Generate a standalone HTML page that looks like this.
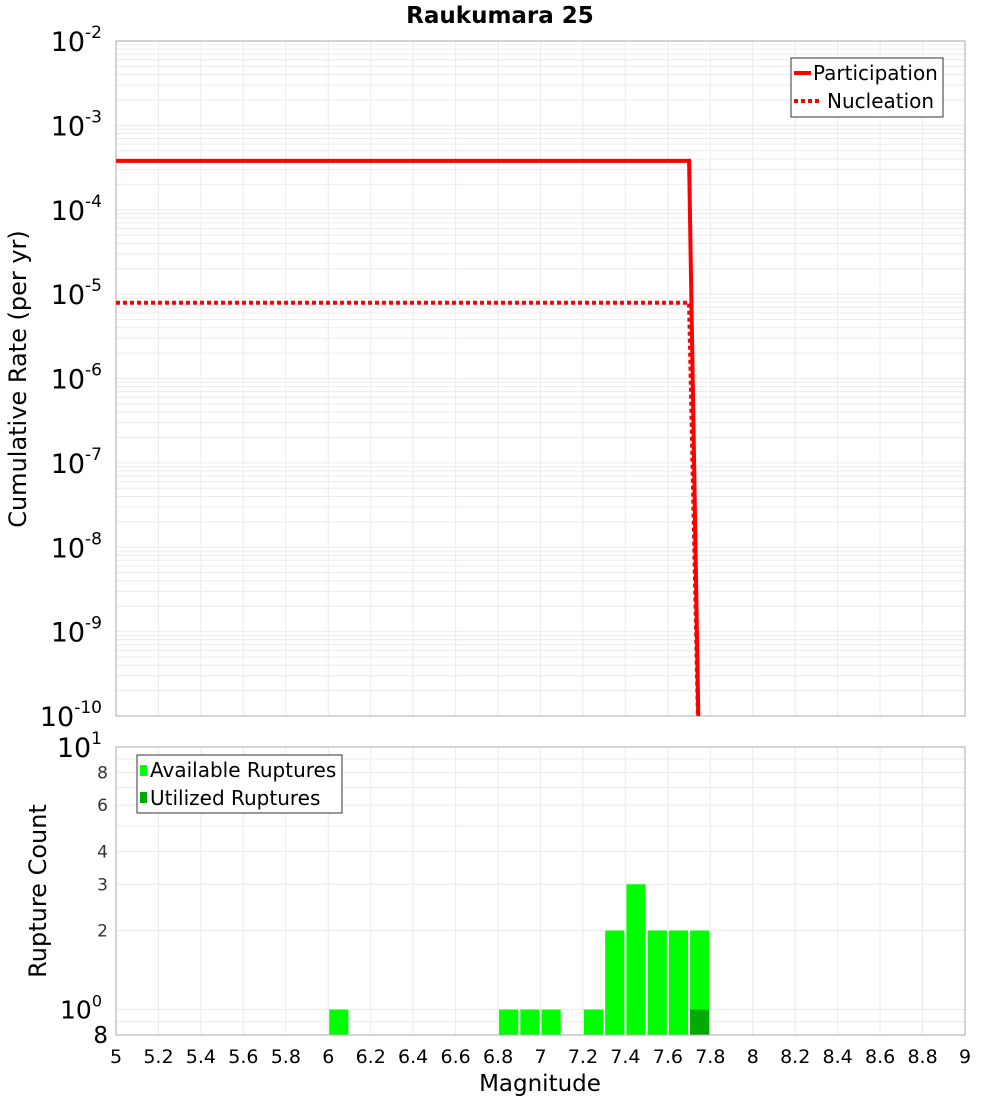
<!DOCTYPE html>
<html><head><meta charset="utf-8"><style>
body{margin:0;background:#fff;font-family:"Liberation Sans","DejaVu Sans",sans-serif}
svg text{font-family:"DejaVu Sans","Liberation Sans",sans-serif}
</style></head><body>
<svg id="c" width="1000" height="1100" xmlns="http://www.w3.org/2000/svg"></svg>
<script>
const magTicks=[5,5.2,5.4,5.6,5.8,6,6.2,6.4,6.6,6.8,7,7.2,7.4,7.6,7.8,8,8.2,8.4,8.6,8.8,9];
const partMags=[5,7.7,7.75];
const partRates=[3.8e-4,3.8e-4,1e-11];
const nuclMags=[5,7.7,7.75];
const nuclRates=[7.9e-6,7.9e-6,1e-11];
const binMags=[6.05,6.85,6.95,7.05,7.25,7.35,7.45,7.55,7.65,7.75];
const availCounts=[1,1,1,1,1,2,3,2,2,2];
const usedMags=[7.75];
const usedCounts=[1];
const countTicks=[8,6,4,3,2];

const S=document.getElementById('c');const NS='http://www.w3.org/2000/svg';
function el(t,a,txt){const e=document.createElementNS(NS,t);for(const k in a)e.setAttribute(k,a[k]);if(txt!==undefined)e.textContent=txt;S.appendChild(e);return e;}
const X0=116,X1=965;
const xs=m=>X0+(m-5)/4*(X1-X0);
const T0=41,T1=716;
const yt=v=>T0+(-2-Math.log10(v))/8*(T1-T0);
const B0=747,B1=1035;
const yb=v=>B1-(Math.log10(v)-Math.log10(0.8))/(1-Math.log10(0.8))*(B1-B0);

const defs=el('defs',{});
const cp=document.createElementNS(NS,'clipPath');cp.setAttribute('id','ct');
const r=document.createElementNS(NS,'rect');r.setAttribute('x',X0);r.setAttribute('y',T0);r.setAttribute('width',X1-X0);r.setAttribute('height',T1-T0);cp.appendChild(r);defs.appendChild(cp);

for(let d=-10;d<-2;d++)for(let k=1;k<10;k++){const y=yt(k*Math.pow(10,d));const g=el('line',{x1:X0,x2:X1,y1:y,y2:y,stroke:'#ececec','stroke-width':1});}
magTicks.forEach(m=>{el('line',{x1:xs(m),x2:xs(m),y1:T0,y2:T1,stroke:'#ececec'});el('line',{x1:xs(m),x2:xs(m),y1:B0,y2:B1,stroke:'#ececec'});});
for(let v=1;v<=10;v++){const y=yb(v);el('line',{x1:X0,x2:X1,y1:y,y2:y,stroke:'#ececec'});}
el('line',{x1:X0,x2:X1,y1:yb(0.9),y2:yb(0.9),stroke:'#ececec'});

const tf=el('rect',{x:X0,y:T0,width:X1-X0,height:T1-T0,fill:'none',stroke:'#aaa'});

for(let d=-10;d<=-2;d++){const y=yt(Math.pow(10,d));
 const t=el('text',{x:102,y:y+10,'text-anchor':'end','font-size':27,fill:'#000'});
 
 t.innerHTML='10<tspan dy="-13" font-size="17">'+d+'</tspan>';}
function pl(ms,vs){return ms.map((m,i)=>xs(m)+','+yt(vs[i])).join(' ');}
const p=el('polyline',{points:pl(partMags,partRates),fill:'none',stroke:'#f00','stroke-width':4,'clip-path':'url(#ct)'});

const n=el('polyline',{points:pl(nuclMags,nuclRates),fill:'none',stroke:'#f00','stroke-width':4,'stroke-dasharray':'4,3','clip-path':'url(#ct)'});

const lg=el('rect',{x:791,y:58,width:152,height:59,fill:'#fff',stroke:'#333'});

el('line',{x1:794,x2:811,y1:73,y2:73,stroke:'#f00','stroke-width':4});
el('text',{x:813,y:80,'font-size':20},'Participation');
el('line',{x1:794,x2:822,y1:101,y2:101,stroke:'#f00','stroke-width':4,'stroke-dasharray':'4,3'});
el('text',{x:827,y:108,'font-size':20},'Nucleation');
const ti=el('text',{x:500,y:23,'text-anchor':'middle','font-size':23,'font-weight':'bold'},'Raukumara 25');

const yl=el('text',{x:0,y:0,'text-anchor':'middle','font-size':24,transform:'translate(26,379) rotate(-90)'},'Cumulative Rate (per yr)');


const bw=xs(5.1)-xs(5);
binMags.forEach((m,i)=>{const b=el('rect',{x:xs(m)-bw/2+1,y:yb(availCounts[i]),width:bw-2,height:B1-yb(availCounts[i]),fill:'#00ff00'});
 });
usedMags.forEach((m,i)=>{const b=el('rect',{x:xs(m)-bw/2+1,y:yb(usedCounts[i]),width:bw-2,height:B1-yb(usedCounts[i]),fill:'#00aa00'});
 });
const bf=el('rect',{x:X0,y:B0,width:X1-X0,height:B1-B0,fill:'none',stroke:'#aaa'});

countTicks.forEach(v=>{const t=el('text',{x:108,y:yb(v)+6,'text-anchor':'end','font-size':17,fill:'#333'},String(v));});
let t1=el('text',{x:102,y:yb(10)+10,'text-anchor':'end','font-size':27});t1.innerHTML='10<tspan dy="-13" font-size="17">1</tspan>';
let t0=el('text',{x:102,y:yb(1)+9,'text-anchor':'end','font-size':25});t0.innerHTML='10<tspan dy="-12" font-size="16">0</tspan>';
el('text',{x:108,y:1043,'text-anchor':'end','font-size':23},'8');
const lg2=el('rect',{x:137,y:755,width:205,height:58,fill:'#fff',stroke:'#333'});

el('rect',{x:140,y:765,width:7,height:11,fill:'#00ff00'});
el('text',{x:150,y:777,'font-size':20},'Available Ruptures');
el('rect',{x:140,y:792,width:7,height:11,fill:'#00aa00'});
el('text',{x:150,y:805,'font-size':20},'Utilized Ruptures');
const yl2=el('text',{x:0,y:0,'text-anchor':'middle','font-size':24,transform:'translate(46,891) rotate(-90)'},'Rupture Count');

magTicks.forEach(m=>{const t=el('text',{x:xs(m),y:1063,'text-anchor':'middle','font-size':19},String(m));});
const xl=el('text',{x:540,y:1091,'text-anchor':'middle','font-size':23},'Magnitude');

</script>
</body></html>
